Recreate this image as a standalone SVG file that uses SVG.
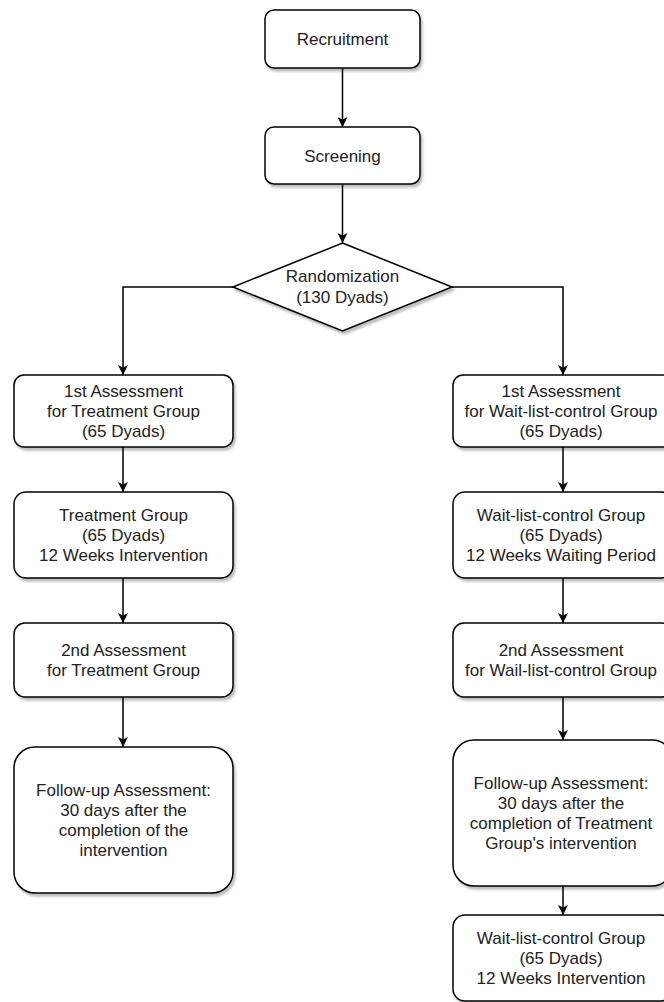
<svg xmlns="http://www.w3.org/2000/svg" width="664" height="1002" viewBox="0 0 664 1002">
<style>
.box{fill:#fff;stroke:#000;stroke-width:1.5;filter:url(#sh)}
.t{font-family:"Liberation Sans",Arial,sans-serif;font-size:17px;fill:#222;text-anchor:middle}
.c{fill:none;stroke:#000;stroke-width:1.5;marker-end:url(#arr)}
</style>
<defs>
<filter id="sh" x="-10%" y="-10%" width="130%" height="130%">
<feDropShadow dx="2" dy="3" stdDeviation="1.2" flood-color="#000" flood-opacity="0.25"/>
</filter>
<marker id="arr" viewBox="0 0 10 10" refX="10" refY="5" markerWidth="10" markerHeight="10" markerUnits="userSpaceOnUse" orient="auto">
<path d="M0,0 L10,5 L0,10 L2.5,5 Z" fill="#000"/>
</marker>
</defs>
<rect width="664" height="1002" fill="#fff"/>
<g id="connectors">
<path class="c" d="M342.5,68 V127"/>
<path class="c" d="M342.5,184 V243"/>
<path class="c" d="M233,287 H123 V375"/>
<path class="c" d="M452,287 H563 V375"/>
<path class="c" d="M123,447 V492"/>
<path class="c" d="M123,578 V623"/>
<path class="c" d="M123,697 V747"/>
<path class="c" d="M563,447 V492"/>
<path class="c" d="M563,578 V623"/>
<path class="c" d="M563,697 V740"/>
<path class="c" d="M563,886 V915"/>
</g>
<g id="recruitment"><rect class="box" x="265" y="10" width="155" height="58" rx="9"/><text class="t" x="342.5" y="45">Recruitment</text></g>
<g id="screening"><rect class="box" x="265" y="127" width="155" height="57" rx="9"/><text class="t" x="342.5" y="161.5">Screening</text></g>
<g id="randomization"><polygon class="box" points="342.5,243 452,287 342.5,331 233,287"/><text class="t" x="342.5" y="282">Randomization</text><text class="t" x="342.5" y="303">(130 Dyads)</text></g>
<g id="l1"><rect class="box" x="14" y="375" width="219" height="72" rx="10"/><text class="t" x="123.5" y="397">1st Assessment</text><text class="t" x="123.5" y="417">for Treatment Group</text><text class="t" x="123.5" y="437">(65 Dyads)</text></g>
<g id="l2"><rect class="box" x="14" y="492" width="219" height="86" rx="12"/><text class="t" x="123.5" y="521">Treatment Group</text><text class="t" x="123.5" y="541">(65 Dyads)</text><text class="t" x="123.5" y="561">12 Weeks Intervention</text></g>
<g id="l3"><rect class="box" x="14" y="623" width="219" height="74" rx="11"/><text class="t" x="123.5" y="656">2nd Assessment</text><text class="t" x="123.5" y="676">for Treatment Group</text></g>
<g id="l4"><rect class="box" x="14" y="747" width="219" height="146" rx="21"/><text class="t" x="123.5" y="796">Follow-up Assessment:</text><text class="t" x="123.5" y="816">30 days after the</text><text class="t" x="123.5" y="836">completion of the</text><text class="t" x="123.5" y="856">intervention</text></g>
<g id="r1"><rect class="box" x="453" y="375" width="220" height="72" rx="10"/><text class="t" x="561" y="397">1st Assessment</text><text class="t" x="561" y="417">for Wait-list-control Group</text><text class="t" x="561" y="437">(65 Dyads)</text></g>
<g id="r2"><rect class="box" x="453" y="492" width="220" height="86" rx="12"/><text class="t" x="561" y="521">Wait-list-control Group</text><text class="t" x="561" y="541">(65 Dyads)</text><text class="t" x="561" y="561">12 Weeks Waiting Period</text></g>
<g id="r3"><rect class="box" x="453" y="623" width="220" height="74" rx="11"/><text class="t" x="561" y="656">2nd Assessment</text><text class="t" x="561" y="676">for Wail-list-control Group</text></g>
<g id="r4"><rect class="box" x="453" y="740" width="220" height="146" rx="21"/><text class="t" x="561" y="789">Follow-up Assessment:</text><text class="t" x="561" y="809">30 days after the</text><text class="t" x="561" y="829">completion of Treatment</text><text class="t" x="561" y="849">Group's intervention</text></g>
<g id="r5"><rect class="box" x="453" y="915" width="220" height="86" rx="12"/><text class="t" x="561" y="944">Wait-list-control Group</text><text class="t" x="561" y="964">(65 Dyads)</text><text class="t" x="561" y="984">12 Weeks Intervention</text></g>
</svg>
